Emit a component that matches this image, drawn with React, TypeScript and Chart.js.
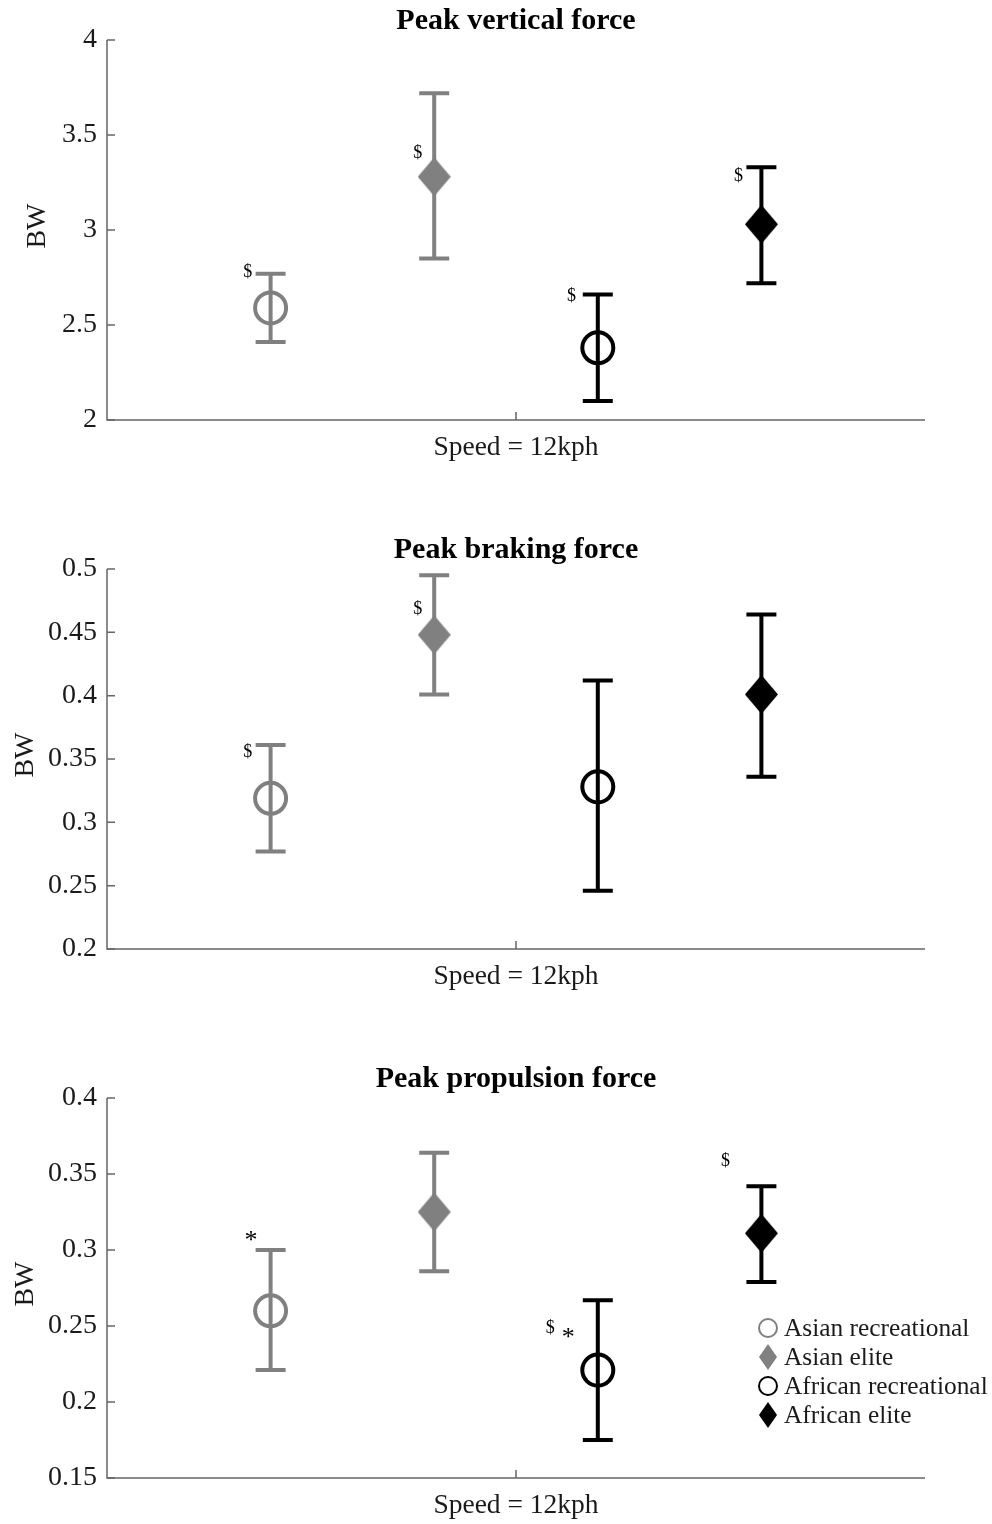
import React, { useEffect, useRef } from 'react';
import { Chart, registerables } from 'chart.js';
Chart.register(...registerables);

// ---------- data ----------
const groupLabels = ['Asian recreational', 'Asian elite', 'African recreational', 'African elite'];
const groupColors = ['#808080', '#808080', '#000000', '#000000'];
const groupShapes = ['circle', 'diamond', 'circle', 'diamond'];
const groupPos = [1, 2, 3, 4];
const xTickLabel = 'Speed = 12kph';

const verticalMean = [2.59, 3.28, 2.38, 3.03];
const verticalLow = [2.41, 2.85, 2.10, 2.72];
const verticalHigh = [2.77, 3.72, 2.66, 3.33];
const verticalTicks = [2, 2.5, 3, 3.5, 4];
const verticalAnnText = ['$', '$', '$', '$'];
const verticalAnnX = [0.86, 1.9, 2.84, 3.86];
const verticalAnnY = [2.78, 3.405, 2.653, 3.284];

const brakingMean = [0.319, 0.448, 0.328, 0.401];
const brakingLow = [0.277, 0.401, 0.246, 0.336];
const brakingHigh = [0.361, 0.495, 0.412, 0.464];
const brakingTicks = [0.2, 0.25, 0.3, 0.35, 0.4, 0.45, 0.5];
const brakingAnnText = ['$', '$'];
const brakingAnnX = [0.86, 1.9];
const brakingAnnY = [0.355, 0.4685];

const propulsionMean = [0.260, 0.325, 0.221, 0.311];
const propulsionLow = [0.221, 0.286, 0.175, 0.279];
const propulsionHigh = [0.300, 0.364, 0.267, 0.342];
const propulsionTicks = [0.15, 0.2, 0.25, 0.3, 0.35, 0.4];
const propulsionAnnText = ['*', '$', '$', '*'];
const propulsionAnnX = [0.88, 3.78, 2.71, 2.82];
const propulsionAnnY = [0.3094, 0.3587, 0.2484, 0.2451];

// ---------- styling ----------
const SERIF = "'Liberation Serif', 'Times New Roman', serif";
const AXIS_COLOR = '#666666';
const TEXT_COLOR = '#1a1a1a';

function makeDiamond(w: number, h: number, color: string) {
  const c = document.createElement('canvas');
  c.width = w;
  c.height = h;
  const ctx = c.getContext('2d')!;
  ctx.fillStyle = color;
  ctx.beginPath();
  ctx.moveTo(w / 2, 0);
  ctx.lineTo(w, h / 2);
  ctx.lineTo(w / 2, h);
  ctx.lineTo(0, h / 2);
  ctx.closePath();
  ctx.fill();
  return c;
}

type PanelProps = {
  title: string;
  means: number[];
  lows: number[];
  highs: number[];
  ticks: number[];
  annText: string[];
  annX: number[];
  annY: number[];
  ylabelX: number;
  showLegend: boolean;
  top: number;
  height: number;
};

function Panel(p: PanelProps) {
  const ref = useRef<HTMLCanvasElement | null>(null);
  useEffect(() => {
    if (!ref.current) return;
    const datasets = groupLabels.map((label, i) => {
      const isDiamond = groupShapes[i] === 'diamond';
      return {
        label,
        data: [{ x: groupPos[i], y: p.means[i] }],
        pointStyle: isDiamond ? makeDiamond(33, 39, groupColors[i]) : 'circle',
        pointRadius: isDiamond ? 18 : 15.5,
        borderWidth: 4,
        borderColor: groupColors[i],
        backgroundColor: isDiamond ? groupColors[i] : 'rgba(0,0,0,0)',
      };
    });

    const plugin = {
      id: 'matlabStyle',
      beforeDatasetsDraw(chart: any) {
        const ctx = chart.ctx;
        const xs = chart.scales.x;
        const ys = chart.scales.y;
        ctx.save();
        groupPos.forEach((gx, i) => {
          const px = xs.getPixelForValue(gx);
          const yl = ys.getPixelForValue(p.lows[i]);
          const yh = ys.getPixelForValue(p.highs[i]);
          ctx.strokeStyle = groupColors[i];
          ctx.lineWidth = 4;
          ctx.lineCap = 'butt';
          ctx.beginPath();
          ctx.moveTo(px, yl);
          ctx.lineTo(px, yh);
          ctx.moveTo(px - 15, yl);
          ctx.lineTo(px + 15, yl);
          ctx.moveTo(px - 15, yh);
          ctx.lineTo(px + 15, yh);
          ctx.stroke();
        });
        ctx.restore();
      },
      afterDraw(chart: any) {
        const ctx = chart.ctx;
        const a = chart.chartArea;
        const xs = chart.scales.x;
        const ys = chart.scales.y;
        ctx.save();
        // axes
        ctx.strokeStyle = AXIS_COLOR;
        ctx.lineWidth = 1.5;
        ctx.beginPath();
        ctx.moveTo(a.left, a.top);
        ctx.lineTo(a.left, a.bottom);
        ctx.lineTo(a.right, a.bottom);
        ctx.stroke();
        // inward ticks
        ctx.beginPath();
        p.ticks.forEach((v) => {
          const y = ys.getPixelForValue(v);
          ctx.moveTo(a.left, y);
          ctx.lineTo(a.left + 8, y);
        });
        const tx = xs.getPixelForValue(2.5);
        ctx.moveTo(tx, a.bottom);
        ctx.lineTo(tx, a.bottom - 8);
        ctx.stroke();
        // title
        ctx.fillStyle = '#000';
        ctx.font = `bold 30px ${SERIF}`;
        ctx.textAlign = 'center';
        ctx.textBaseline = 'middle';
        ctx.fillText(p.title, (a.left + a.right) / 2, 21);
        // y label
        ctx.save();
        ctx.translate(p.ylabelX, (a.top + a.bottom) / 2 - 4);
        ctx.rotate(-Math.PI / 2);
        ctx.font = `28px ${SERIF}`;
        ctx.fillStyle = TEXT_COLOR;
        ctx.fillText('BW', 0, 0);
        ctx.restore();
        // annotations
        p.annText.forEach((t, i) => {
          const x = xs.getPixelForValue(p.annX[i]);
          const y = ys.getPixelForValue(p.annY[i]);
          ctx.fillStyle = '#000';
          ctx.textAlign = 'center';
          ctx.textBaseline = 'middle';
          if (t === '*') {
            ctx.font = `26px ${SERIF}`;
            ctx.fillText(t, x, y + 5);
          } else {
            ctx.font = `18px ${SERIF}`;
            ctx.fillText(t, x, y);
          }
        });
        // legend
        if (p.showLegend) {
          const lx = 768;
          const ly0 = 270;
          const dy = 29;
          groupLabels.forEach((label, i) => {
            const y = ly0 + i * dy;
            if (groupShapes[i] === 'circle') {
              ctx.strokeStyle = groupColors[i];
              ctx.lineWidth = 2;
              ctx.beginPath();
              ctx.arc(lx, y, 9, 0, Math.PI * 2);
              ctx.stroke();
            } else {
              ctx.fillStyle = groupColors[i];
              ctx.beginPath();
              ctx.moveTo(lx, y - 13);
              ctx.lineTo(lx + 9, y);
              ctx.lineTo(lx, y + 13);
              ctx.lineTo(lx - 9, y);
              ctx.closePath();
              ctx.fill();
            }
            ctx.fillStyle = TEXT_COLOR;
            ctx.font = `25.4px ${SERIF}`;
            ctx.textAlign = 'left';
            ctx.textBaseline = 'middle';
            ctx.fillText(label, lx + 16, y + 1);
          });
        }
        ctx.restore();
      },
    };

    const chart = new Chart(ref.current, {
      type: 'scatter',
      data: { datasets: datasets as any },
      options: {
        animation: false,
        responsive: false,
        layout: { padding: { top: 40, left: 0, right: 67, bottom: 0 } },
        plugins: {
          legend: { display: false },
          tooltip: { enabled: false },
          title: { display: false },
        },
        scales: {
          x: {
            type: 'linear',
            min: 0,
            max: 5,
            grid: { display: false, drawTicks: false },
            border: { display: false },
            afterBuildTicks: (s: any) => {
              s.ticks = [{ value: 2.5 }];
            },
            afterFit: (s: any) => {
              s.height = 46;
            },
            ticks: {
              callback: () => xTickLabel,
              font: { family: SERIF, size: 27.5 },
              color: TEXT_COLOR,
              padding: 11,
              maxRotation: 0,
              autoSkip: false,
            },
          },
          y: {
            type: 'linear',
            min: p.ticks[0],
            max: p.ticks[p.ticks.length - 1],
            grid: { display: false, drawTicks: false },
            border: { display: false },
            afterBuildTicks: (s: any) => {
              s.ticks = p.ticks.map((v) => ({ value: v }));
            },
            afterFit: (s: any) => {
              s.width = 107;
            },
            ticks: {
              callback: (v: any) => String(v),
              font: { family: SERIF, size: 28 },
              color: TEXT_COLOR,
              padding: 10,
              autoSkip: false,
            },
          },
        },
      },
      plugins: [plugin],
    } as any);
    return () => chart.destroy();
  }, []);
  return (
    <canvas
      ref={ref}
      width={992}
      height={p.height}
      style={{ position: 'absolute', left: 0, top: p.top, width: 992, height: p.height, display: 'block' }}
    />
  );
}

export default function App() {
  return (
    <div style={{ position: 'absolute', left: 0, top: 0, width: 992, height: 1524, background: '#fff' }}>
      <Panel
        title="Peak vertical force"
        means={verticalMean}
        lows={verticalLow}
        highs={verticalHigh}
        ticks={verticalTicks}
        annText={verticalAnnText}
        annX={verticalAnnX}
        annY={verticalAnnY}
        ylabelX={38}
        showLegend={false}
        top={0}
        height={466}
      />
      <Panel
        title="Peak braking force"
        means={brakingMean}
        lows={brakingLow}
        highs={brakingHigh}
        ticks={brakingTicks}
        annText={brakingAnnText}
        annX={brakingAnnX}
        annY={brakingAnnY}
        ylabelX={26}
        showLegend={false}
        top={529}
        height={466}
      />
      <Panel
        title="Peak propulsion force"
        means={propulsionMean}
        lows={propulsionLow}
        highs={propulsionHigh}
        ticks={propulsionTicks}
        annText={propulsionAnnText}
        annX={propulsionAnnX}
        annY={propulsionAnnY}
        ylabelX={26}
        showLegend={true}
        top={1058}
        height={466}
      />
    </div>
  );
}
